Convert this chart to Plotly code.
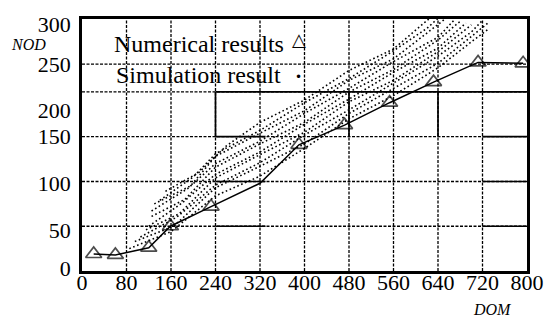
import plotly.graph_objects as go

# ---------------- data ----------------
# Numerical results (DOM, NOD); the vertex at DOM=320 carries no marker
num_dom = [21, 60, 120, 159, 232, 320, 390, 472, 553, 632, 712, 793]
num_nod = [19, 18, 26, 50, 72, 98, 141, 163, 188, 211, 233, 232]
num_marked = [True, True, True, True, True, False, True, True, True, True, True, True]

# Simulation results: several dotted runs
sim_runs = [
    ([85, 160, 240, 320, 400, 480, 560, 640, 700, 730],
     [25, 44, 84, 106, 137, 170, 196, 227, 256, 270]),
    ([95, 165, 240, 320, 400, 480, 560, 640, 700, 730],
     [33, 50, 93, 117, 142, 176, 204, 232, 262, 277]),
    ([105, 170, 240, 320, 400, 480, 560, 640, 700, 720],
     [38, 60, 96, 121, 152, 180, 210, 240, 267, 280]),
    ([115, 175, 240, 320, 400, 480, 560, 640, 700],
     [46, 64, 104, 130, 155, 189, 213, 245, 275]),
    ([120, 180, 240, 320, 400, 480, 560, 640, 690],
     [50, 76, 108, 133, 164, 192, 222, 249, 277]),
    ([125, 185, 240, 320, 400, 480, 560, 640, 680],
     [61, 80, 116, 142, 166, 200, 225, 258, 279]),
    ([125, 190, 240, 320, 400, 480, 560, 640, 670],
     [67, 92, 120, 145, 176, 204, 234, 261, 281]),
    ([130, 195, 240, 320, 400, 480, 560, 630, 660],
     [75, 95, 128, 154, 179, 213, 237, 271, 285]),
    ([140, 200, 240, 320, 400, 480, 560, 620, 645],
     [79, 105, 131, 157, 188, 215, 246, 271, 285]),
    ([150, 210, 260, 320, 400, 480, 560, 610, 630],
     [89, 110, 140, 166, 191, 224, 248, 275, 285]),
]

# axes
x_ticks = [0, 80, 160, 240, 320, 400, 480, 560, 640, 720, 800]
y_tick_text = ["0", "50", "100", "150", "200", "250", "300"]
y_tick_pos = [3, 46, 98, 150, 179, 231, 276]          # where the labels sit
y_grid = [50, 100, 150, 200, 231]                     # dotted horizontal rules
x_grid = [80, 160, 240, 320, 400, 480, 560, 640, 720]
# solid pieces of the rules (x0, x1, y) and (x, y0, y1)
solid_h = [(240, 330, 50), (240, 330, 100), (240, 330, 150), (240, 800, 200),
           (720, 800, 50), (720, 800, 100), (720, 800, 150)]
solid_v = [(240, 150, 200), (480, 150, 200), (640, 150, 200)]

FONT = "Liberation Serif, 'Times New Roman', Times, 'DejaVu Serif', serif"
X_RANGE = [0, 800]
Y_RANGE = [0, 281.5]

fig = go.Figure()

for xs, ys in sim_runs:
    fig.add_trace(go.Scatter(
        x=xs, y=ys, mode="lines",
        line=dict(color="black", width=1.6, dash="1.6px,2.6px"),
        hoverinfo="skip", showlegend=False))

fig.add_trace(go.Scatter(
    x=num_dom, y=num_nod, mode="lines+markers",
    line=dict(color="black", width=1.5),
    marker=dict(symbol="triangle-up-open", color="black",
                size=[14 if m else 0 for m in num_marked],
                line=dict(width=1.7, color="black")),
    showlegend=False))

shapes = []
for gy in y_grid:
    shapes.append(dict(type="line", xref="x", yref="y", x0=X_RANGE[0], x1=X_RANGE[1],
                       y0=gy, y1=gy, layer="below",
                       line=dict(color="black", width=1.3, dash="3px,1.5px")))
for gx in x_grid:
    shapes.append(dict(type="line", xref="x", yref="y", x0=gx, x1=gx,
                       y0=Y_RANGE[0], y1=Y_RANGE[1], layer="below",
                       line=dict(color="black", width=1.3, dash="3px,1.5px")))
for x0, x1, yy in solid_h:
    shapes.append(dict(type="line", xref="x", yref="y", x0=x0, x1=x1, y0=yy, y1=yy,
                       layer="below", line=dict(color="black", width=1.7)))
for xx, y0, y1 in solid_v:
    shapes.append(dict(type="line", xref="x", yref="y", x0=xx, x1=xx, y0=y0, y1=y1,
                       layer="below", line=dict(color="black", width=1.7)))

annotations = [
    dict(text="Numerical results", xref="paper", yref="paper", x=0.068, y=0.902,
         xanchor="left", yanchor="middle", showarrow=False,
         font=dict(family=FONT, size=24, color="black")),
    dict(text="Simulation result", xref="paper", yref="paper", x=0.073, y=0.776,
         xanchor="left", yanchor="middle", showarrow=False,
         font=dict(family=FONT, size=24, color="black")),
    dict(text="△", xref="paper", yref="paper", x=0.488, y=0.918,
         xanchor="center", yanchor="middle", showarrow=False,
         font=dict(family="DejaVu Sans", size=18, color="black")),
    dict(text="•", xref="paper", yref="paper", x=0.486, y=0.769,
         xanchor="center", yanchor="middle", showarrow=False,
         font=dict(family="DejaVu Sans", size=12, color="black")),
    dict(text="<i>NOD</i>", xref="paper", yref="paper", x=-0.12, y=0.898,
         xanchor="center", yanchor="middle", showarrow=False,
         font=dict(family=FONT, size=16, color="black")),
    dict(text="<i>DOM</i>", xref="paper", yref="paper", x=0.923, y=-0.152,
         xanchor="center", yanchor="middle", showarrow=False,
         font=dict(family=FONT, size=16, color="black")),
]

fig.update_layout(
    width=556, height=321,
    margin=dict(l=82, r=21, t=16, b=50),
    paper_bgcolor="white", plot_bgcolor="white",
    shapes=shapes, annotations=annotations,
    font=dict(family=FONT, color="black"),
    xaxis=dict(range=X_RANGE, tickvals=x_ticks, ticktext=[str(v) for v in x_ticks],
               showgrid=False, zeroline=False, ticks="",
               showline=True, mirror=True, linecolor="black", linewidth=2.5,
               tickfont=dict(family=FONT, size=22, color="black"),
               ticklabelstandoff=-10),
    yaxis=dict(range=Y_RANGE, tickvals=y_tick_pos, ticktext=y_tick_text,
               showgrid=False, zeroline=False, ticks="",
               showline=True, mirror=True, linecolor="black", linewidth=2.5,
               tickfont=dict(family=FONT, size=22, color="black"),
               ticklabelstandoff=4),
)

fig.write_html("out.html")
